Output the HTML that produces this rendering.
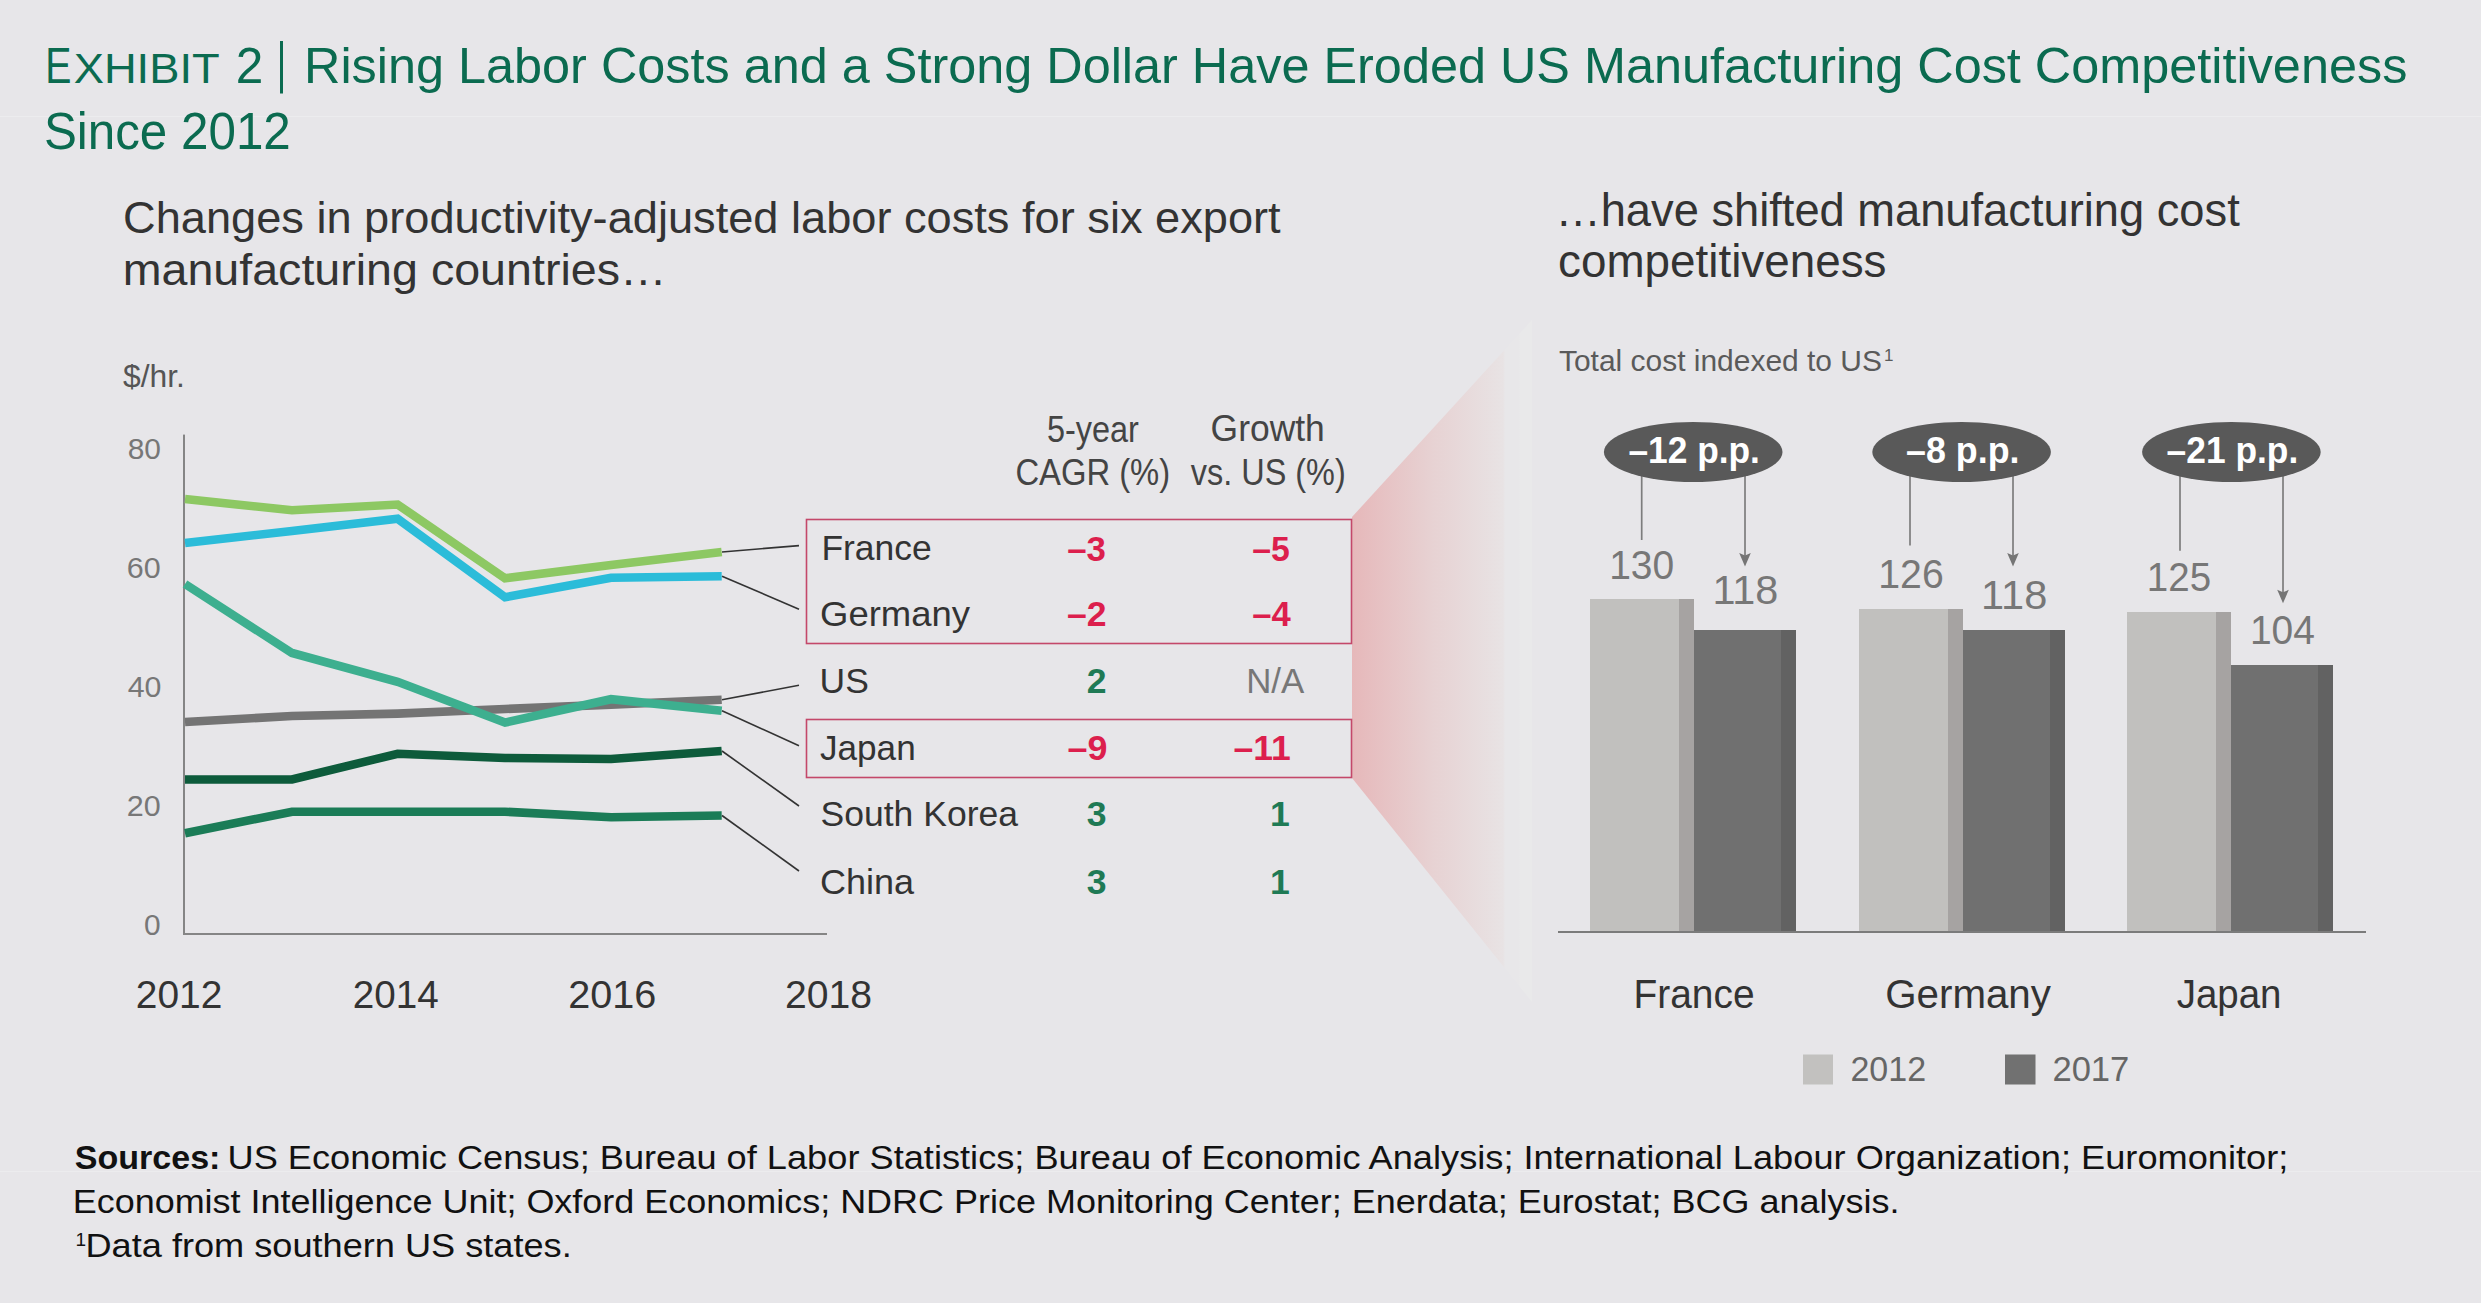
<!DOCTYPE html>
<html><head><meta charset="utf-8"><title>Exhibit 2</title>
<style>html,body{margin:0;padding:0;background:#e7e6e9;width:2481px;height:1303px;overflow:hidden}
svg{display:block} text{font-family:"Liberation Sans",sans-serif;white-space:pre}</style></head>
<body><svg width="2481" height="1303" viewBox="0 0 2481 1303">
<rect x="0" y="0" width="2481" height="1303" fill="#e7e6e9"/>
<rect x="0" y="116" width="2481" height="1" fill="#ececee"/>
<rect x="0" y="1171" width="2481" height="1" fill="#ececee"/>
<rect x="280" y="41" width="3" height="52.5" fill="#0b6b50"/>
<defs><linearGradient id="rg" x1="1352" y1="0" x2="1532" y2="0" gradientUnits="userSpaceOnUse">
<stop offset="0" stop-color="#e6b8ba"/><stop offset="0.45" stop-color="#e7d2d3"/><stop offset="0.84" stop-color="#e8e3e4"/><stop offset="0.85" stop-color="#e8e7e9"/><stop offset="0.93" stop-color="#e8e7e9"/><stop offset="0.931" stop-color="#e9e9ea"/><stop offset="1" stop-color="#e9e9ea"/></linearGradient></defs>
<polygon points="1352,517 1532,320 1532,1002 1352,778" fill="url(#rg)"/>
<rect x="183" y="434.6" width="2" height="500.4" fill="#858585"/>
<rect x="183" y="933" width="644" height="2" fill="#858585"/>
<polyline points="185,722 292,716 397.6,713.6 505,709 611,704.6 721.7,699.8" fill="none" stroke="#747474" stroke-width="8.6" stroke-linejoin="miter" stroke-linecap="butt"/>
<polyline points="185,584 292,653 397.6,681.8 505,722.6 611,699.2 721.7,710.8" fill="none" stroke="#3daf8f" stroke-width="8.6" stroke-linejoin="miter" stroke-linecap="butt"/>
<polyline points="185,543 292,531 397.6,518.8 505,597.2 611,577.8 721.7,576.2" fill="none" stroke="#2bbcd9" stroke-width="8.6" stroke-linejoin="miter" stroke-linecap="butt"/>
<polyline points="185,499 292,510.3 397.6,504.5 505,578.3 611,565 721.7,552" fill="none" stroke="#8dc863" stroke-width="8.6" stroke-linejoin="miter" stroke-linecap="butt"/>
<polyline points="185,779.5 292,779.5 397.6,753.7 505,758 611,759 721.7,751" fill="none" stroke="#0d5b3b" stroke-width="8.6" stroke-linejoin="miter" stroke-linecap="butt"/>
<polyline points="185,833.3 292,811.7 397.6,811.7 505,811.7 611,817.2 721.7,815.5" fill="none" stroke="#1b7c57" stroke-width="8.6" stroke-linejoin="miter" stroke-linecap="butt"/>
<line x1="722" y1="552" x2="799" y2="545.6" stroke="#333" stroke-width="1.6"/>
<line x1="722" y1="576.2" x2="799" y2="609.2" stroke="#333" stroke-width="1.6"/>
<line x1="722" y1="699.8" x2="799" y2="685.3" stroke="#333" stroke-width="1.6"/>
<line x1="722" y1="710.8" x2="799" y2="745.7" stroke="#333" stroke-width="1.6"/>
<line x1="722" y1="751" x2="799" y2="806" stroke="#333" stroke-width="1.6"/>
<line x1="722" y1="815.5" x2="799" y2="871" stroke="#333" stroke-width="1.6"/>
<rect x="806.5" y="519.5" width="545" height="124" fill="none" stroke="#c4486a" stroke-width="1.6"/>
<rect x="806.5" y="719.5" width="545" height="58" fill="none" stroke="#c4486a" stroke-width="1.6"/>
<rect x="1590" y="599" width="89" height="333" fill="#c1c0be"/>
<rect x="1679" y="599" width="15" height="333" fill="#a6a3a2"/>
<rect x="1694" y="630" width="87" height="302" fill="#707070"/>
<rect x="1781" y="630" width="15" height="302" fill="#626262"/>
<rect x="1859" y="609" width="89" height="323" fill="#c1c0be"/>
<rect x="1948" y="609" width="15" height="323" fill="#a6a3a2"/>
<rect x="1963" y="630" width="87" height="302" fill="#707070"/>
<rect x="2050" y="630" width="15" height="302" fill="#626262"/>
<rect x="2127" y="612" width="89" height="320" fill="#c1c0be"/>
<rect x="2216" y="612" width="15" height="320" fill="#a6a3a2"/>
<rect x="2231" y="665" width="87" height="267" fill="#707070"/>
<rect x="2318" y="665" width="15" height="267" fill="#626262"/>
<rect x="1558" y="931" width="808" height="2" fill="#7b7b7b"/>
<line x1="1641.7" y1="476" x2="1641.7" y2="540" stroke="#7d7d7d" stroke-width="1.7"/>
<line x1="1745" y1="476" x2="1745" y2="559.6" stroke="#7d7d7d" stroke-width="1.7"/>
<path d="M1739.2,553.1 L1745,566.6 L1750.8,553.1 L1745,555.6 Z" fill="#757575"/>
<ellipse cx="1693.2" cy="452" rx="89.3" ry="30" fill="#595959"/>
<line x1="1910" y1="476" x2="1910" y2="545.4" stroke="#7d7d7d" stroke-width="1.7"/>
<line x1="2013" y1="476" x2="2013" y2="559.6" stroke="#7d7d7d" stroke-width="1.7"/>
<path d="M2007.2,553.1 L2013,566.6 L2018.8,553.1 L2013,555.6 Z" fill="#757575"/>
<ellipse cx="1961.6" cy="452" rx="89.3" ry="30" fill="#595959"/>
<line x1="2180" y1="476" x2="2180" y2="550.7" stroke="#7d7d7d" stroke-width="1.7"/>
<line x1="2283" y1="476" x2="2283" y2="596.3" stroke="#7d7d7d" stroke-width="1.7"/>
<path d="M2277.2,589.8 L2283,603.3 L2288.8,589.8 L2283,592.3 Z" fill="#757575"/>
<ellipse cx="2231.4" cy="452" rx="89.3" ry="30" fill="#595959"/>
<rect x="1803" y="1054.5" width="30" height="30" fill="#c2c1bf"/>
<rect x="2005" y="1054.5" width="30.5" height="30" fill="#717171"/>
<text x="45.30" y="82.8" font-size="50.3" font-weight="400" fill="#0b6b50" transform="translate(45.30,0) scale(0.78,1) translate(-45.30,0)">E</text>
<text x="73.70" y="82.8" font-size="43.2" font-weight="400" fill="#0b6b50" textLength="145.98" lengthAdjust="spacingAndGlyphs">XHIBIT</text>
<text x="235.70" y="82.8" font-size="49.5" font-weight="400" fill="#0b6b50">2</text>
<text x="304.00" y="82.8" font-size="50.3" font-weight="400" fill="#0b6b50" textLength="2103.33" lengthAdjust="spacingAndGlyphs">Rising Labor Costs and a Strong Dollar Have Eroded US Manufacturing Cost Competitiveness</text>
<text x="43.90" y="148.5" font-size="52" font-weight="400" fill="#0b6b50" textLength="246.87" lengthAdjust="spacingAndGlyphs">Since 2012</text>
<text x="123.00" y="232.6" font-size="45" font-weight="400" fill="#333333" textLength="1157.62" lengthAdjust="spacingAndGlyphs">Changes in productivity-adjusted labor costs for six export</text>
<text x="122.70" y="285.4" font-size="45" font-weight="400" fill="#333333" textLength="543.87" lengthAdjust="spacingAndGlyphs">manufacturing countries…</text>
<text x="1555.40" y="225.8" font-size="45.5" font-weight="400" fill="#333333" textLength="684.32" lengthAdjust="spacingAndGlyphs">…have shifted manufacturing cost</text>
<text x="1558.00" y="277.3" font-size="45.5" font-weight="400" fill="#333333" textLength="328.48" lengthAdjust="spacingAndGlyphs">competitiveness</text>
<text x="1559.00" y="371.2" font-size="30.4" font-weight="400" fill="#5a5a5a" textLength="322.92" lengthAdjust="spacingAndGlyphs">Total cost indexed to US</text>
<text x="1883.90" y="361" font-size="17" font-weight="400" fill="#5a5a5a">1</text>
<text x="123.00" y="386.8" font-size="31" font-weight="400" fill="#555555" textLength="61.91" lengthAdjust="spacingAndGlyphs">$/hr.</text>
<text x="127.70" y="459" font-size="29.9" font-weight="400" fill="#777777" textLength="33.28" lengthAdjust="spacingAndGlyphs">80</text>
<text x="126.70" y="578" font-size="29.9" font-weight="400" fill="#777777" textLength="33.92" lengthAdjust="spacingAndGlyphs">60</text>
<text x="127.70" y="697" font-size="29.9" font-weight="400" fill="#777777" textLength="33.73" lengthAdjust="spacingAndGlyphs">40</text>
<text x="126.70" y="816" font-size="29.9" font-weight="400" fill="#777777" textLength="33.92" lengthAdjust="spacingAndGlyphs">20</text>
<text x="144.00" y="934.5" font-size="29.9" font-weight="400" fill="#777777">0</text>
<text x="135.80" y="1008.4" font-size="39.7" font-weight="400" fill="#333333" textLength="86.54" lengthAdjust="spacingAndGlyphs">2012</text>
<text x="352.70" y="1008" font-size="39.7" font-weight="400" fill="#333333" textLength="85.96" lengthAdjust="spacingAndGlyphs">2014</text>
<text x="568.20" y="1008" font-size="39.7" font-weight="400" fill="#333333" textLength="88.14" lengthAdjust="spacingAndGlyphs">2016</text>
<text x="785.00" y="1008" font-size="39.7" font-weight="400" fill="#333333" textLength="87.13" lengthAdjust="spacingAndGlyphs">2018</text>
<text x="1046.90" y="442" font-size="36.7" font-weight="400" fill="#444444" textLength="92.01" lengthAdjust="spacingAndGlyphs">5-year</text>
<text x="1015.40" y="484.9" font-size="36.7" font-weight="400" fill="#444444" textLength="154.74" lengthAdjust="spacingAndGlyphs">CAGR (%)</text>
<text x="1210.60" y="441.4" font-size="36.7" font-weight="400" fill="#444444" textLength="114.16" lengthAdjust="spacingAndGlyphs">Growth</text>
<text x="1190.80" y="484.9" font-size="36.7" font-weight="400" fill="#444444" textLength="154.95" lengthAdjust="spacingAndGlyphs">vs. US (%)</text>
<text x="821.40" y="560" font-size="35.6" font-weight="400" fill="#333333" textLength="110.40" lengthAdjust="spacingAndGlyphs">France</text>
<text x="820.00" y="625.6" font-size="35.6" font-weight="400" fill="#333333" textLength="150.05" lengthAdjust="spacingAndGlyphs">Germany</text>
<text x="819.60" y="693" font-size="35.6" font-weight="400" fill="#333333" textLength="49.27" lengthAdjust="spacingAndGlyphs">US</text>
<text x="820.00" y="759.6" font-size="35.6" font-weight="400" fill="#333333" textLength="95.69" lengthAdjust="spacingAndGlyphs">Japan</text>
<text x="820.60" y="826.2" font-size="35.6" font-weight="400" fill="#333333" textLength="197.37" lengthAdjust="spacingAndGlyphs">South Korea</text>
<text x="820.00" y="894" font-size="35.6" font-weight="400" fill="#333333" textLength="94.13" lengthAdjust="spacingAndGlyphs">China</text>
<text x="1067.20" y="561" font-size="35.6" font-weight="700" fill="#dc1f4d" textLength="38.71" lengthAdjust="spacingAndGlyphs">–3</text>
<text x="1067.00" y="626" font-size="35.6" font-weight="700" fill="#dc1f4d" textLength="39.58" lengthAdjust="spacingAndGlyphs">–2</text>
<text x="1086.80" y="693" font-size="35.6" font-weight="700" fill="#1f7a55">2</text>
<text x="1067.60" y="759.6" font-size="35.6" font-weight="700" fill="#dc1f4d" textLength="39.93" lengthAdjust="spacingAndGlyphs">–9</text>
<text x="1086.80" y="826.2" font-size="35.6" font-weight="700" fill="#1f7a55">3</text>
<text x="1086.80" y="894" font-size="35.6" font-weight="700" fill="#1f7a55">3</text>
<text x="1252.20" y="561" font-size="35.6" font-weight="700" fill="#dc1f4d" textLength="37.58" lengthAdjust="spacingAndGlyphs">–5</text>
<text x="1252.20" y="626" font-size="35.6" font-weight="700" fill="#dc1f4d" textLength="38.51" lengthAdjust="spacingAndGlyphs">–4</text>
<text x="1246.20" y="693" font-size="35.6" font-weight="400" fill="#777777" textLength="58.12" lengthAdjust="spacingAndGlyphs">N/A</text>
<text x="1233.50" y="759.6" font-size="35.6" font-weight="700" fill="#dc1f4d" textLength="57.32" lengthAdjust="spacingAndGlyphs">–11</text>
<text x="1270.00" y="826.2" font-size="35.6" font-weight="700" fill="#1f7a55">1</text>
<text x="1270.00" y="894" font-size="35.6" font-weight="700" fill="#1f7a55">1</text>
<text x="1628.40" y="462.5" font-size="36.2" font-weight="700" fill="#ffffff" textLength="131.53" lengthAdjust="spacingAndGlyphs">–12 p.p.</text>
<text x="1906.10" y="462.5" font-size="36.2" font-weight="700" fill="#ffffff" textLength="113.37" lengthAdjust="spacingAndGlyphs">–8 p.p.</text>
<text x="2166.60" y="462.5" font-size="36.2" font-weight="700" fill="#ffffff" textLength="131.62" lengthAdjust="spacingAndGlyphs">–21 p.p.</text>
<text x="1609.20" y="578.5" font-size="40" font-weight="400" fill="#777777" textLength="65.03" lengthAdjust="spacingAndGlyphs">130</text>
<text x="1712.40" y="603.8" font-size="40" font-weight="400" fill="#777777" textLength="65.97" lengthAdjust="spacingAndGlyphs">118</text>
<text x="1878.30" y="587.8" font-size="40" font-weight="400" fill="#777777" textLength="65.43" lengthAdjust="spacingAndGlyphs">126</text>
<text x="1981.10" y="608.6" font-size="40" font-weight="400" fill="#777777" textLength="66.21" lengthAdjust="spacingAndGlyphs">118</text>
<text x="2146.80" y="590.5" font-size="40" font-weight="400" fill="#777777" textLength="64.27" lengthAdjust="spacingAndGlyphs">125</text>
<text x="2249.90" y="644.2" font-size="40" font-weight="400" fill="#777777" textLength="64.97" lengthAdjust="spacingAndGlyphs">104</text>
<text x="1633.40" y="1007.6" font-size="40.6" font-weight="400" fill="#333333" textLength="121.17" lengthAdjust="spacingAndGlyphs">France</text>
<text x="1885.20" y="1007.6" font-size="40.6" font-weight="400" fill="#333333" textLength="165.75" lengthAdjust="spacingAndGlyphs">Germany</text>
<text x="2176.70" y="1007.6" font-size="40.6" font-weight="400" fill="#333333" textLength="104.81" lengthAdjust="spacingAndGlyphs">Japan</text>
<text x="1850.40" y="1081.4" font-size="35" font-weight="400" fill="#666666" textLength="75.66" lengthAdjust="spacingAndGlyphs">2012</text>
<text x="2052.40" y="1081.4" font-size="35" font-weight="400" fill="#666666" textLength="76.97" lengthAdjust="spacingAndGlyphs">2017</text>
<text x="74.70" y="1168.7" font-size="33.3" font-weight="700" fill="#111111" textLength="145.76" lengthAdjust="spacingAndGlyphs">Sources:</text>
<text x="227.50" y="1168.7" font-size="33.3" font-weight="400" fill="#111111" textLength="2060.83" lengthAdjust="spacingAndGlyphs">US Economic Census; Bureau of Labor Statistics; Bureau of Economic Analysis; International Labour Organization; Euromonitor;</text>
<text x="72.70" y="1213.4" font-size="33.3" font-weight="400" fill="#111111" textLength="1826.70" lengthAdjust="spacingAndGlyphs">Economist Intelligence Unit; Oxford Economics; NDRC Price Monitoring Center; Enerdata; Eurostat; BCG analysis.</text>
<text x="75.50" y="1246" font-size="19" font-weight="400" fill="#111111">1</text>
<text x="85.50" y="1257" font-size="33.3" font-weight="400" fill="#111111" textLength="486.23" lengthAdjust="spacingAndGlyphs">Data from southern US states.</text>
</svg></body></html>
